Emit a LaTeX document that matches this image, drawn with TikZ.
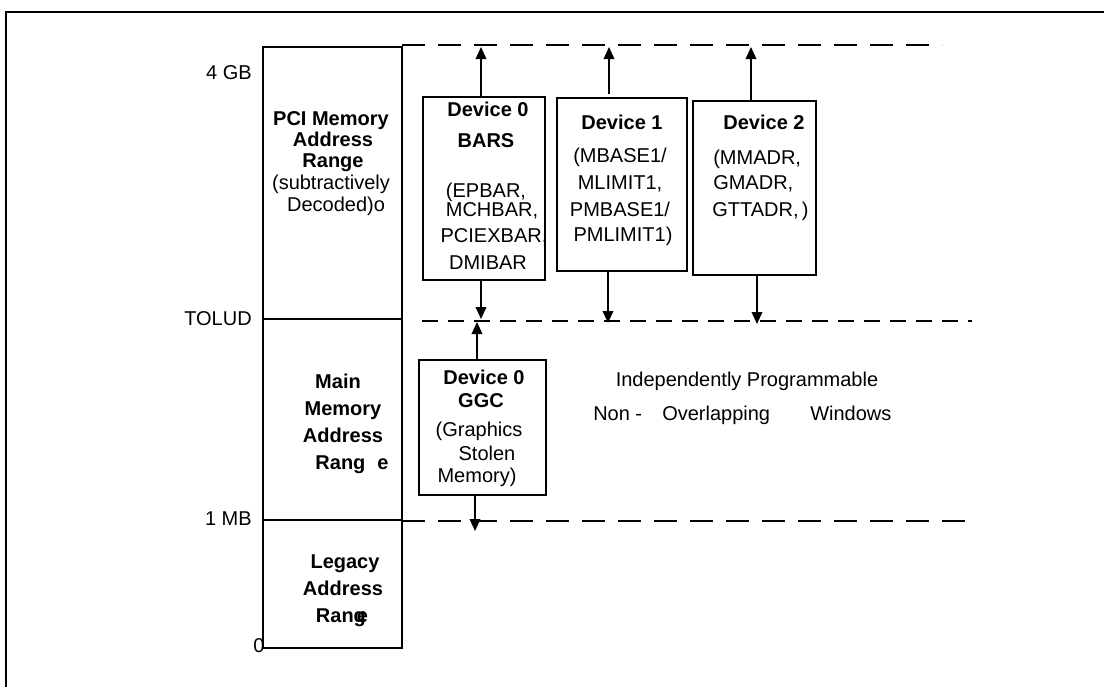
\documentclass[tikz,border=0pt]{standalone}
\usepackage{fontspec}
\setmainfont{Liberation Sans}
\usetikzlibrary{arrows.meta}
\begin{document}
\begin{tikzpicture}[x=0.75pt,y=-0.75pt,
 box/.style={draw, line width=1.4pt, inner sep=0pt, outer sep=0pt},
 txt/.style={font=\fontsize{15}{18}\selectfont, inner sep=0pt, anchor=mid},
 btxt/.style={txt, font=\fontsize{15}{18}\selectfont\bfseries},
 dline/.style={line width=1.6pt, dash pattern=on 17pt off 10pt},
 dlinet/.style={line width=1.4pt, dash pattern=on 12pt off 7.5pt},
 arr/.style={line width=1.1pt, -{Triangle[length=9pt,width=8pt]}},
 frame/.style={line width=1.8pt}]
\useasboundingbox (0,0) rectangle (1104,687);
\draw[frame] (6,687) -- (6,12) -- (1104,12);

% memory column
\node[box, minimum width=104.25pt, minimum height=204pt] (pci) at (332.5,183) {};
\node[box, minimum width=104.25pt, minimum height=150.75pt] (main) at (332.5,419.5) {};
\node[box, minimum width=104.25pt, minimum height=96pt] (legacy) at (332.5,584) {};

\node[btxt] (p1) at (331,122) {PCI Memory};
\node[btxt] (p2) at (333,143) {Address};
\node[btxt] (p3) at (333,164) {Range};
\node[txt]  (p4) at (331,186) {(subtractively};
\node[txt]  (p5) at (336,208) {Decoded)o};

\node[btxt] (m1) at (338,385) {Main};
\node[btxt] (m2) at (343,412) {Memory};
\node[btxt] (m3) at (343,439) {Address};
\node[btxt] (m4) at (352,466) {Rang\hspace{0.6em}e};

\node[btxt] (l1) at (345,565) {Legacy};
\node[btxt] (l2) at (343,592) {Address};
\node[btxt] (l3) at (342,619) {Rang\hspace{-0.45em}e};

% left labels
\node[txt, anchor=mid east] (gb4) at (252,76) {4 GB};
\node[txt, anchor=mid east] (tolud) at (252,322) {TOLUD};
\node[txt, anchor=mid east] (mb1) at (252,522) {1 MB};
\node[txt] (zero) at (259,649) {0};

% dashed boundary lines
\coordinate (topL) at (402,45);  \coordinate (topR) at (942,45);
\coordinate (tolL) at (422,321); \coordinate (tolR) at (972,321);
\coordinate (mbL) at (402,521);  \coordinate (mbR) at (975,521);
\draw[dline] (topL) -- (topR);
\draw[dlinet] (tolL) -- (tolR);
\draw[dline] (mbL) -- (mbR);

% device boxes
\node[box, minimum width=91.5pt, minimum height=137.25pt] (d0) at (484,188.5) {};
\node[box, minimum width=97.5pt, minimum height=129.75pt] (d1) at (622,184.5) {};
\node[box, minimum width=92.25pt, minimum height=130.5pt] (d2) at (754.5,188) {};
\node[box, minimum width=95.25pt, minimum height=101.25pt] (ggc) at (482.5,427.5) {};

\node[btxt] (d0a) at (488,113) {Device 0};
\node[btxt] (d0b) at (486,144) {BARS};
\node[txt] (d0c) at (486,194) {(EPBAR,};
\node[txt] (d0d) at (492,213) {MCHBAR,};
\node[txt] (d0e) at (494,239) {PCIEXBAR,};
\node[txt] (d0f) at (488,266) {DMIBAR};

\node[btxt] (d1a) at (622,126) {Device 1};
\node[txt] (d1b) at (620,159) {(MBASE1/};
\node[txt] (d1c) at (620,186) {MLIMIT1,};
\node[txt] (d1d) at (620,213) {PMBASE1/};
\node[txt] (d1e) at (623,238) {PMLIMIT1)};

\node[btxt] (d2a) at (764,126) {Device 2};
\node[txt, anchor=mid west] (d2b) at (713,161) {(MMADR,};
\node[txt, anchor=mid west] (d2c) at (713,186) {GMADR,};
\node[txt, anchor=mid west] (d2d) at (712,213) {GTTADR,\,)};

\node[btxt] (g1) at (484,381) {Device 0};
\node[btxt] (g2) at (481,404) {GGC};
\node[txt] (g3) at (479,433) {(Graphics};
\node[txt] (g4) at (487,457) {Stolen};
\node[txt] (g5) at (477,479) {Memory)};

\node[txt] (ip) at (747,383) {Independently Programmable};
\node[txt, anchor=mid west] (no1) at (593,417) {Non -};
\node[txt, anchor=mid west] (no2) at (662,417) {Overlapping};
\node[txt, anchor=mid west] (no3) at (810,417) {Windows};

% arrows
\coordinate (a0t) at (481,47);  \coordinate (a0b) at (481,319);
\coordinate (a1t) at (609,47);  \coordinate (a1b) at (608,323);
\coordinate (a2t) at (751,47);  \coordinate (a2b) at (757,324);
\coordinate (agt) at (477,322); \coordinate (agb) at (475,531);
\draw[arr] (a0t |- d0.north) -- (a0t);
\draw[arr] (a0b |- d0.south) -- (a0b);
\draw[arr] (609,94) -- (a1t);
\draw[arr] (a1b |- d1.south) -- (a1b);
\draw[arr] (a2t |- d2.north) -- (a2t);
\draw[arr] (a2b |- d2.south) -- (a2b);
\draw[arr] (agt |- ggc.north) -- (agt);
\draw[arr] (agb |- ggc.south) -- (agb);
\end{tikzpicture}
\end{document}
